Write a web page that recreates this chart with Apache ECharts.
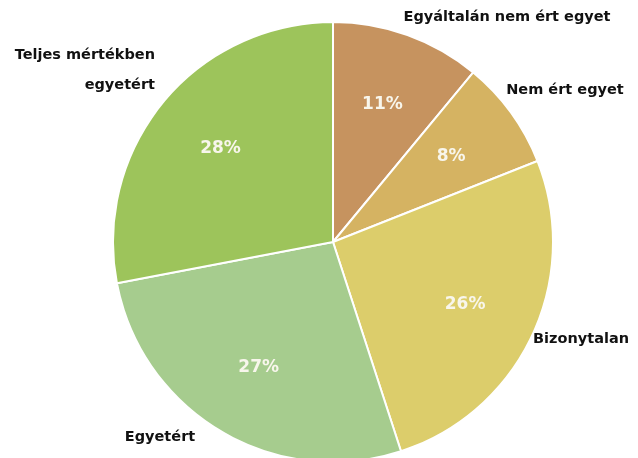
<!DOCTYPE html>
<html><head><meta charset="utf-8">
<script src="https://cdn.jsdelivr.net/npm/echarts@6/dist/echarts.min.js"></script>
<style>html,body{margin:0;padding:0;background:#fff}#c{width:638px;height:458px}</style>
</head><body><div id="c"></div>
<script>
const categories = ['Egyáltalán nem ért egyet', 'Nem ért egyet', 'Bizonytalan', 'Egyetért', 'Teljes mértékben egyetért'];
const values = [11, 8, 26, 27, 28];
const labelTexts = ['Egyáltalán nem ért egyet', 'Nem ért egyet', 'Bizonytalan', 'Egyetért', 'Teljes mértékben\negyetért'];
const colors = ['#C6935F', '#D5B362', '#DCCD6B', '#A6CC8E', '#9DC45B'];
const labelPos = [
  {x: 507, y: 17, align: 'center'},
  {x: 565, y: 90, align: 'center'},
  {x: 581, y: 339, align: 'center'},
  {x: 160, y: 437, align: 'center'},
  {x: 155, y: 70, align: 'right'}
];

const chart = echarts.init(document.getElementById('c'), null, {renderer: 'canvas'});
const center = [333, 242];
chart.setOption({
  animation: false,
  series: [
    {
      type: 'pie',
      center: center,
      radius: [0, 220],
      startAngle: 90,
      clockwise: true,
      silent: true,
      itemStyle: {borderColor: '#fff', borderWidth: 2},
      label: {
        show: true,
        position: 'outside',
        alignTo: 'none',
        overflow: 'none',
        formatter: p => labelTexts[p.dataIndex],
        fontFamily: 'DejaVu Sans',
        fontWeight: 'bold',
        fontSize: 14.5,
        lineHeight: 30,
        color: '#111'
      },
      labelLine: {show: false},
      labelLayout: p => Object.assign({verticalAlign: 'middle'}, labelPos[p.dataIndex]),
      data: categories.map((c, i) => ({name: c, value: values[i], itemStyle: {color: colors[i]}}))
    },
    {
      type: 'pie',
      center: center,
      radius: [0, 286],
      startAngle: 90,
      clockwise: true,
      silent: true,
      itemStyle: {color: 'rgba(0,0,0,0)', borderWidth: 0},
      label: {
        show: true,
        position: 'inside',
        formatter: p => p.value + '%',
        fontFamily: 'DejaVu Sans',
        fontWeight: 'bold',
        fontSize: 17,
        color: '#F8F6EC'
      },
      labelLine: {show: false},
      data: categories.map((c, i) => ({name: c, value: values[i]}))
    }
  ]
});
</script></body></html>
